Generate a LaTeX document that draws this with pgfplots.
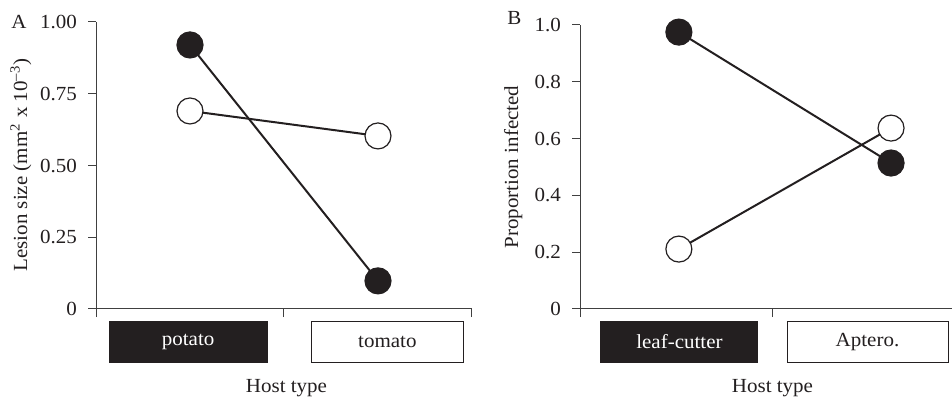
\documentclass[border=0pt]{standalone}
\usepackage{pgfplots}
\pgfplotsset{compat=1.18}
\usepackage{fontspec}
\setmainfont{Liberation Serif}[FakeStretch=1.05]
\definecolor{ink}{HTML}{231F20}
\tikzset{
  filled/.style={draw=ink, line width=1pt, mark=*, mark size=6.5pt, mark options={fill=ink, draw=ink, line width=0.6pt}},
  open/.style={draw=ink, line width=1pt, mark=*, mark size=6.5pt, mark options={fill=white, draw=ink, line width=0.6pt}},
  catbox/.style={anchor=north, minimum height=20.5pt, inner sep=0pt, draw=ink, line width=0.5pt, font=\fontsize{10}{12}\selectfont},
}
\pgfplotsset{
 common/.style={
  scale only axis, anchor=south west,
  axis x line*=bottom, axis y line*=left,
  axis line style={draw=black!75, line width=0.5pt},
  tick style={draw=black!75, line width=0.5pt},
  tick align=outside,
  major tick length=4pt,
  ymin=0, xmin=0, ymax=1,
  xticklabels={},
  clip=false,
  /pgf/number format/assume math mode=true,
  yticklabel style={font=\fontsize{10}{12}\selectfont, text=ink, xshift=-2pt},
 }
}
\begin{document}
\fontsize{10}{12}\selectfont
\begin{tikzpicture}
\useasboundingbox (0,0) rectangle (476pt,200.5pt);
% Panel A
\begin{axis}[common,
  at={(48pt,46pt)}, width=188pt, height=143.5pt,
  xmax=4, xtick={0,2,4},
  ytick={0,0.25,0.5,0.75,1}, yticklabels={0,0.25,0.50,0.75,1.00},
]
\addplot[open] coordinates {(1,0.69) (3,0.603)};
\addplot[filled] coordinates {(1,0.92) (3,0.098)};
\node[catbox, fill=ink, text=white, minimum width=79pt] at (axis cs:0.98,0) [yshift=-6pt] {potato};
\node[catbox, fill=white, text=ink, minimum width=76pt] at (axis cs:3.1,0) [yshift=-6pt] {tomato};
\end{axis}
% Panel B
\begin{axis}[common,
  at={(290pt,46pt)}, width=186pt, height=142pt,
  xmax=3.875, xtick={0,2},
  ytick={0,0.2,0.4,0.6,0.8,1}, yticklabels={0,0.2,0.4,0.6,0.8,1.0},
]
\addplot[open] coordinates {(1.03,0.211) (3.24,0.637)};
\addplot[filled] coordinates {(1.03,0.975) (3.24,0.514)};
\node[catbox, fill=ink, text=white, minimum width=78.5pt] at (axis cs:1.036,0) [yshift=-6pt] {leaf-cutter};
\node[catbox, fill=white, text=ink, minimum width=80.5pt] at (axis cs:2.995,0) [yshift=-6pt] {Aptero.};
\end{axis}
\begin{scope}[every node/.style={text=ink, inner sep=0pt}]
\node[anchor=base] at (143.25pt,4pt) {Host type};
\node[anchor=base] at (386.25pt,4pt) {Host type};
\node[rotate=90, anchor=base] at (13.5pt,118pt) {Lesion size (mm\textsuperscript{2} x 10\textsuperscript{\textendash 3})};
\node[rotate=90, anchor=base] at (259pt,117pt) {Proportion infected};
\node[anchor=base west] at (5.5pt,186pt) {A};
\node[anchor=base west] at (253.5pt,188pt) {B};
\end{scope}
\end{tikzpicture}
\end{document}
